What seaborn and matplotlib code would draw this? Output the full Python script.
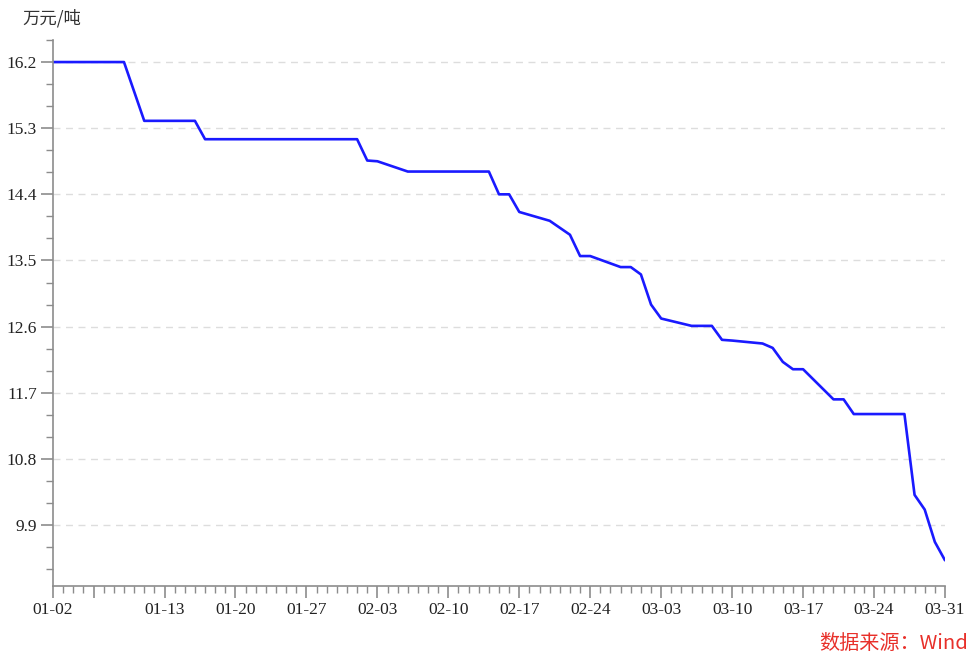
import pandas as pd
import matplotlib
matplotlib.use("Agg")
import matplotlib.pyplot as plt
import matplotlib.dates as mdates
import seaborn as sns

# Price data (vertices), 2023
dates = ["01-02", "01-09", "01-11", "01-16", "01-17", "02-01", "02-02", "02-03",
         "02-06", "02-14", "02-15", "02-16", "02-17", "02-20", "02-22", "02-23",
         "02-24", "02-27", "02-28", "03-01", "03-02", "03-03", "03-06", "03-08",
         "03-09", "03-10", "03-13", "03-14", "03-15", "03-16", "03-17", "03-20",
         "03-21", "03-22", "03-27", "03-28", "03-29", "03-30", "03-31"]
prices = [16.2, 16.2, 15.4, 15.4, 15.15, 15.15, 14.86, 14.85,
          14.71, 14.71, 14.4, 14.4, 14.16, 14.04, 13.85, 13.56,
          13.56, 13.41, 13.41, 13.31, 12.9, 12.71, 12.61, 12.61,
          12.42, 12.41, 12.37, 12.31, 12.12, 12.02, 12.02, 11.61,
          11.61, 11.41, 11.41, 10.31, 10.11, 9.67, 9.42]
y_ticks = [9.9, 10.8, 11.7, 12.6, 13.5, 14.4, 15.3, 16.2]
x_ticks = ["01-02", "01-06", "01-13", "01-20", "01-27", "02-03", "02-10", "02-17",
           "02-24", "03-03", "03-10", "03-17", "03-24", "03-31"]
x_labels = ["01-02", "", "01-13", "01-20", "01-27", "02-03", "02-10", "02-17",
            "02-24", "03-03", "03-10", "03-17", "03-24", "03-31"]

df = pd.DataFrame({"date": pd.to_datetime(["2023-" + d for d in dates]), "price": prices})

sns.set_style("ticks")
plt.rcParams['font.family'] = ['Liberation Serif', 'Noto Sans CJK SC']

fig = plt.figure(figsize=(9.73, 6.58), dpi=100)
ax = fig.add_axes([0.0545, 0.1094, 0.9167, 0.8298])

sns.lineplot(data=df, x="date", y="price", color="#1a1aff", linewidth=1.9, ax=ax)

# axes
start, end = pd.Timestamp("2023-01-02"), pd.Timestamp("2023-03-31")
ax.set_xlim(start, end)
ax.set_ylim(9.07, 16.5)

tick_dates = pd.to_datetime(["2023-" + d for d in x_ticks])
ax.set_xticks(tick_dates)
ax.set_xticklabels(x_labels)
ax.xaxis.set_minor_locator(mdates.DayLocator())

ax.set_yticks(y_ticks)
ax.set_yticklabels([f"{v:.1f}" for v in y_ticks])
ax.set_yticks([9.3, 9.6, 10.2, 10.5, 11.1, 11.4, 12.0, 12.3, 12.9, 13.2,
               13.8, 14.1, 14.7, 15.0, 15.6, 15.9, 16.5], minor=True)

ax.grid(axis="y", which="major", color="#dddddd", linestyle=(0, (5, 4)), linewidth=1)
ax.set_axisbelow(True)

for side in ["top", "right"]:
    ax.spines[side].set_visible(False)
for side in ["left", "bottom"]:
    ax.spines[side].set_color("#8c8c8c")
    ax.spines[side].set_linewidth(1.2)

ax.tick_params(which="major", bottom=True, left=True, direction="out", length=8.5,
               width=1.2, color="#8c8c8c", labelsize=12.5, labelcolor="#222222", pad=3)
ax.tick_params(which="minor", bottom=True, left=True, direction="out", length=5,
               width=1, color="#8c8c8c")
ax.set_xlabel("")
ax.set_ylabel("")

fig.text(0.023, 0.972, "万元/吨", fontsize=12.5, color="#333333",
         family=["Noto Sans CJK SC"], ha="left", va="center")
fig.text(0.995, 0.022, "数据来源：Wind", fontsize=14.5, color="#e8302a",
         family=["Noto Sans CJK SC"], ha="right", va="center")

fig.savefig("out.png", dpi=100)
